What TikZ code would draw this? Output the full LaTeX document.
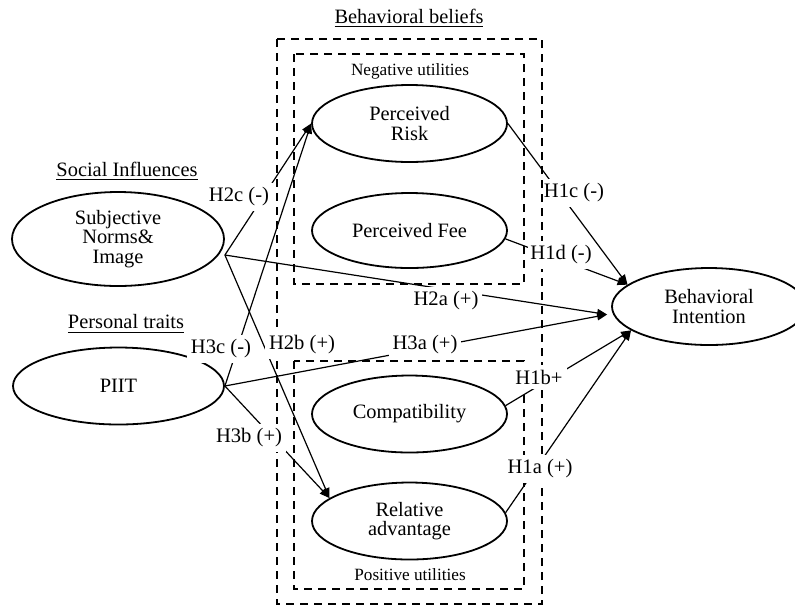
\documentclass[tikz,border=0pt]{standalone}
\usepackage{fontspec}
\setmainfont{Liberation Serif}
\usetikzlibrary{shapes.geometric,arrows.meta}

\begin{document}
\begin{tikzpicture}[x=0.5pt,y=-0.5pt]

	% Define styles
	\tikzset{
		construct/.style={ellipse, draw, line width=0.9pt, minimum width=97.5pt, minimum height=38.5pt,
			inner sep=0pt, align=center, font=\fontsize{10.2}{9.6}\selectfont},
		hyp/.style={fill=white, inner xsep=2pt, inner ysep=2.5pt, font=\fontsize{10.3}{11}\selectfont},
		link/.style={line width=0.6pt, -{Triangle[length=5pt,width=4pt]}},
		dashbox/.style={line width=0.9pt, dash pattern=on 4pt off 3pt},
		heading/.style={font=\fontsize{10.2}{11}\selectfont},
		util/.style={font=\fontsize{8.6}{10}\selectfont}
	}

	\useasboundingbox (0,0) rectangle (795,606);

	% Draw the dashed boxes
	\draw[dashbox] (277,39) rectangle (542,604);
	\draw[dashbox] (294,54) rectangle (524,284);
	\draw[dashbox] (294,361) rectangle (524,589);

	% Draw the headings
	\node[heading] (beliefs) at (409,18) {\underline{Behavioral beliefs}};
	\node[heading] (social) at (127,171) {\underline{Social Influences}};
	\node[heading] (traits) at (126,324) {\underline{Personal traits}};
	\node[util] (neg) at (410,71) {Negative utilities};
	\node[util] (pos) at (410,575) {Positive utilities};

	% Draw the constructs
	\node[construct] (pr) at (409.5,123.5) {Perceived\\Risk};
	\node[construct, minimum height=37.5pt] (pf) at (409.5,230.5) {Perceived Fee};
	\node[construct] (co) at (409.5,414) {Compatibility};
	\node[construct] (ra) at (409.5,521) {Relative\\advantage};
	\node[construct, minimum width=106pt, minimum height=47pt] (sni) at (118,239) {Subjective\\Norms\&\\Image};
	\node[construct, minimum width=105.5pt] (piit) at (118.5,386) {PIIT};
	\node[construct, minimum width=97pt] (bi) at (709,306.5) {Behavioral\\Intention};

	\coordinate (sni-out) at ([yshift=-8pt]sni.east);
	\coordinate (bi-in) at ([xshift=-2pt,yshift=-4pt]bi.west);

	% Draw the connectors
	\foreach \src in {sni-out, piit.east} {
		\draw[link] (\src) -- (pr.west);
		\draw[link] (\src) -- (bi-in);
		\draw[link] (\src) -- (ra.164);
	}
	\draw[link] (pr.east) -- (bi.165);
	\draw[link] (pf.-5) -- (bi.165);
	\draw[link] (co.5) -- (bi.197);
	\draw[link] (ra.5) -- (bi.197);

	% Draw the hypothesis labels
	\node[hyp] (h2c) at (239,197) {H2c (-)};
	\node[hyp] (h3c) at (221,349) {H3c (-)};
	\node[hyp] (h2b) at (302,345) {H2b (+)};
	\node[hyp] (h3a) at (425,345) {H3a (+)};
	\node[hyp] (h2a) at (446,301) {H2a (+)};
	\node[hyp] (h3b) at (249,438) {H3b (+)};
	\node[hyp, inner xsep=0pt] (h1c) at (574,193) {H1c (-)};
	\node[hyp, inner xsep=1pt] (h1d) at (561,255) {H1d (-)};
	\node[hyp] (h1b) at (539,377) {H1b+};
	\node[hyp] (h1a) at (540,469) {H1a (+)};

\end{tikzpicture}
\end{document}
